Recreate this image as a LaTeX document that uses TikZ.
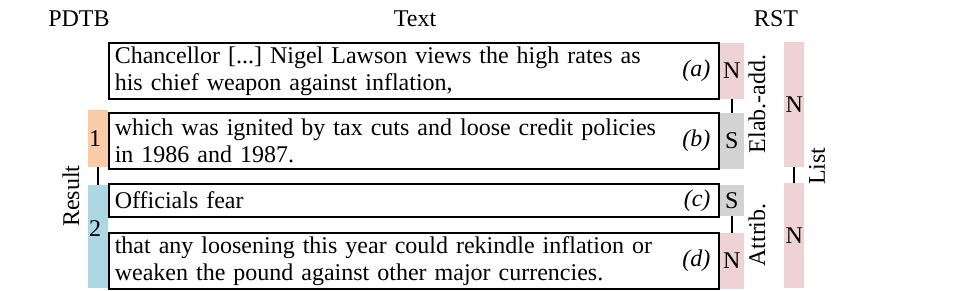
\documentclass[tikz,border=0pt]{standalone}
\usepackage{fontspec}
\setmainfont{Liberation Serif}
\usetikzlibrary{positioning,calc}
\definecolor{ArgOrange}{HTML}{F9CBA7}
\definecolor{ArgBlue}{HTML}{ADD8E3}
\definecolor{NucPink}{HTML}{EFD2D4}
\definecolor{SatGray}{HTML}{D3D3D3}
\newcommand{\diagfont}{\fontsize{24}{27}\selectfont\frenchspacing}
\tikzset{
  unit/.style={draw, line width=1.6pt, anchor=north west, minimum width=610pt,
    text width=598pt, inner xsep=6pt, inner ysep=0pt, align=left},
  unitid/.style={font=\diagfont\itshape, inner sep=0pt},
  nucleus/.style={fill=NucPink, minimum width=24pt, inner sep=0pt},
  satellite/.style={fill=SatGray, minimum width=24pt, inner sep=0pt},
  argbar/.style={minimum width=20pt, inner sep=0pt, anchor=north west},
  listbar/.style={fill=NucPink, minimum width=20pt, inner sep=0pt, anchor=north west},
  relname/.style={rotate=90, inner sep=0pt},
  header/.style={inner sep=0pt},
  link/.style={line width=1.6pt}
}

\begin{document}
\begin{tikzpicture}[x=1pt, y=-1pt, font=\diagfont]
  \useasboundingbox (0,0) rectangle (967,290);
  % headers
  \node[header] (hpdtb) at (79,19) {PDTB};
  \node[header] (htext) at (415,19) {Text};
  \node[header] (hrst) at (776,19) {RST};
  % text units
  \node[unit, minimum height=56pt] (unitA) at (108,42)
    {Chancellor [...] Nigel Lawson views the high rates as\\his chief weapon against inflation,};
  \node[unit, minimum height=56pt] (unitB) at (108,112)
    {which was ignited by tax cuts and loose credit policies\\in 1986 and 1987.};
  \node[unit, minimum height=33pt] (unitC) at (108,183) {Officials fear};
  \node[unit, minimum height=56pt] (unitD) at (108,232)
    {that any loosening this year could rekindle inflation or\\weaken the pound against other major currencies.};
  \node[unitid, left=9pt of unitA.east] (idA) {(a)};
  \node[unitid, left=9pt of unitB.east] (idB) {(b)};
  \node[unitid, left=9pt of unitC.east] (idC) {(c)};
  \node[unitid, left=9pt of unitD.east] (idD) {(d)};
  % RST, first level
  \node[nucleus, minimum height=56pt, right=0pt of unitA] (nucA) {N};
  \node[satellite, minimum height=56pt, right=0pt of unitB] (satB) {S};
  \node[satellite, minimum height=31pt, right=0pt of unitC] (satC) {S};
  \node[nucleus, minimum height=56pt, right=0pt of unitD] (nucD) {N};
  \draw[link] (nucA.south) -- (satB.north);
  \draw[link] (satC.south) -- (nucD.north);
  \node[relname] (elab) at (757,104) {Elab.-add.};
  \node[relname] (attrib) at (757,235) {Attrib.};
  % RST, second level
  \node[listbar, minimum height=125pt] (listA) at (784,42) {N};
  \node[listbar, minimum height=105pt] (listB) at (784,183) {N};
  \draw[link] (listA.south) -- (listB.north);
  \node[relname] (list) at (817,166) {List};
  % PDTB
  \node[argbar, fill=ArgOrange, minimum height=57pt] (arg1) at (88,110) {};
  \node[argbar, fill=ArgBlue, minimum height=103pt] (arg2) at (88,185) {};
  \node[header] (num1) at ([xshift=-3pt]arg1.center) {1};
  \node[header] (num2) at ([xshift=-3pt, yshift=8pt]arg2.center) {2};
  \draw[link] (arg1.south) -- (arg2.north);
  \node[relname] (result) at (71,196) {Result};
\end{tikzpicture}
\end{document}
